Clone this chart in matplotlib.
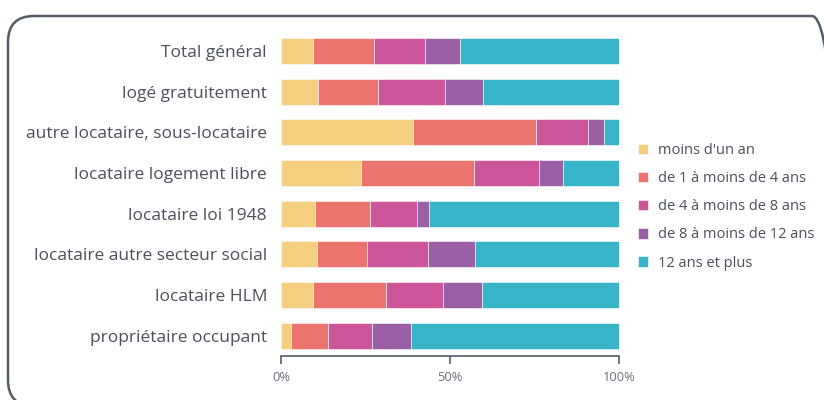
import matplotlib.pyplot as plt
from matplotlib.patches import FancyBboxPatch
from matplotlib.transforms import IdentityTransform
import numpy as np

plt.rcParams['font.family'] = ['Open Sans', 'DejaVu Sans']

categories = ['Total général', 'logé gratuitement', 'autre locataire, sous-locataire',
              'locataire logement libre', 'locataire loi 1948',
              'locataire autre secteur social', 'locataire HLM', 'propriétaire occupant']

series = ["moins d'un an", 'de 1 à moins de 4 ans', 'de 4 à moins de 8 ans',
          'de 8 à moins de 12 ans', '12 ans et plus']

# percentages, one list per category (same order as series)
values = [
    [9.4, 18.0, 15.2, 10.4, 47.0],
    [10.9, 17.7, 20.0, 11.2, 40.2],
    [39.1, 36.3, 15.3, 4.8, 4.5],
    [23.8, 33.2, 19.2, 7.2, 16.6],
    [10.2, 16.0, 14.1, 3.6, 56.1],
    [10.6, 14.9, 17.9, 14.0, 42.6],
    [9.4, 21.6, 16.8, 11.6, 40.6],
    [3.0, 10.8, 13.2, 11.6, 61.4],
]

colors = ['#f3cf7f', '#eb756e', '#cc5699', '#9b5fa5', '#38b4c9']
text_color = '#4a505c'

fig = plt.figure(figsize=(8.24, 4.0), dpi=100)
ax = fig.add_axes([281 / 824, 44 / 400, 338 / 824, 326 / 400])

data = np.array(values)
y = np.arange(len(categories))
left = np.zeros(len(categories))
for i, name in enumerate(series):
    ax.barh(y, data[:, i], left=left, height=0.64, color=colors[i],
            edgecolor='white', linewidth=0.4, label=name)
    left += data[:, i]

ax.set_ylim(7.5, -0.52)
ax.set_xlim(0, 100)
ax.set_yticks(y)
ax.set_yticklabels(categories, fontsize=12.5, color=text_color)
ax.tick_params(axis='y', length=0, pad=10)
ax.set_xticks([0, 50, 100])
ax.set_xticklabels(['0%', '50%', '100%'], fontsize=9.3, color='#6b7180')
ax.tick_params(axis='x', length=6, width=1.2, color='#555c66', pad=5)

for side in ['top', 'right', 'left']:
    ax.spines[side].set_visible(False)
ax.spines['bottom'].set_color('#555c66')
ax.spines['bottom'].set_linewidth(1.2)

leg = fig.legend(loc='upper left', bbox_to_anchor=(625 / 824, 1 - 130 / 400),
                 frameon=False, fontsize=10.5, handlelength=0.7, handleheight=0.7,
                 handletextpad=0.65, labelspacing=0.9)
for t in leg.get_texts():
    t.set_color(text_color)

# rounded outer frame, in pixels (partly runs off the right and bottom edges)
frame = FancyBboxPatch((8, -6), 830, 390,
                       boxstyle='round,pad=0,rounding_size=26',
                       transform=IdentityTransform(), fill=False,
                       edgecolor='#555c66', linewidth=1.8, clip_on=False)
fig.patches.append(frame)

fig.savefig('out.png', dpi=100)
